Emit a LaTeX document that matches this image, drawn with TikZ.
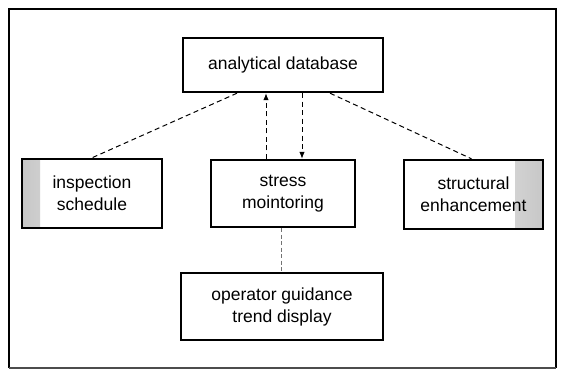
\documentclass[tikz,border=0pt]{standalone}
\usepackage{fontspec}
\setmainfont{Liberation Sans}
\usetikzlibrary{arrows.meta}
\begin{document}
\begin{tikzpicture}[x=1pt,y=-1pt,
  box/.style={draw=black,line width=2.4pt,fill=white,align=center,inner sep=0pt,
    font=\fontsize{17.5}{22}\selectfont},
  shadeleft/.style={path picture={\shade[left color=black!22,right color=white]
    (path picture bounding box.north west) rectangle ([xshift=18pt]path picture bounding box.south west);}},
  shaderight/.style={path picture={\shade[left color=white,right color=black!22]
    ([xshift=-28pt]path picture bounding box.north east) rectangle (path picture bounding box.south east);}},
  link/.style={draw=black,line width=1pt,dash pattern=on 5pt off 3.5pt},
  tip/.style={-{Latex[length=7pt,width=5.5pt]}}]
\useasboundingbox (0,0) rectangle (565,371);
\draw[line width=1.6pt] (9,368) -- (9,9) -- (556,9) -- (556,368);
\draw[line width=1.2pt,black!70] (9,368) -- (556,368);
\node[box,minimum width=200pt,minimum height=54pt] (db) at (283,65) {analytical database};
\node[box,shadeleft,minimum width=140pt,minimum height=69pt] (insp) at (92,193.5) {inspection\\schedule};
\node[box,minimum width=144pt,minimum height=67pt] (stress) at (283,193.5) {stress\\mointoring};
\node[box,shaderight,minimum width=139pt,minimum height=69pt] (struc) at (473.5,194.5) {structural\\enhancement};
\node[box,minimum width=202pt,minimum height=67pt] (oper) at (282,306.5) {operator guidance\\trend display};
% connectors
\draw[link] ([xshift=-46pt]db.south) -- (insp.north);
\draw[link] ([xshift=47pt]db.south) -- ([xshift=-2pt]struc.north);
\draw[link,tip] ([xshift=-17pt]stress.north) -- ([xshift=-17pt]db.south);
\draw[link,tip] ([xshift=19pt]db.south) -- ([xshift=19pt]stress.north);
\draw[draw=black!55,line width=0.8pt,dash pattern=on 4pt off 2.5pt] ([xshift=-2pt]stress.south) -- ([xshift=-2pt]stress.south |- oper.north);
\end{tikzpicture}
\end{document}
